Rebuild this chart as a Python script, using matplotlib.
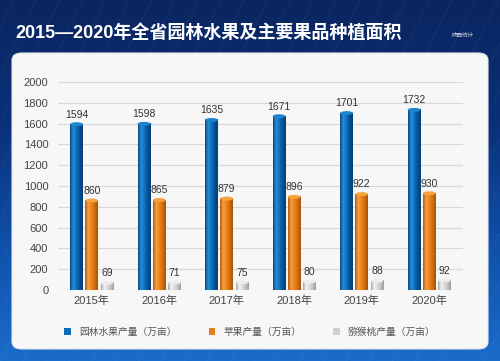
import numpy as np
import matplotlib.pyplot as plt
from matplotlib.colors import LinearSegmentedColormap
from matplotlib.patches import FancyBboxPatch, Ellipse

plt.rcParams['font.family'] = ['Liberation Sans', 'Noto Sans CJK SC', 'DejaVu Sans']

years = ['2015年', '2016年', '2017年', '2018年', '2019年', '2020年']
fruit = [1594, 1598, 1635, 1671, 1701, 1732]
apple = [860, 865, 879, 896, 922, 930]
kiwi = [69, 71, 75, 80, 88, 92]
series_names = ['园林水果产量（万亩）', '苹果产量（万亩）', '猕猴桃产量（万亩）']
title = '2015—2020年全省园林水果及主要果品种植面积'

fig = plt.figure(figsize=(5, 3.61), dpi=100)

# background: blue gradient + rounded white panel
bg = fig.add_axes([0, 0, 1, 1], zorder=0)
bg.set_xlim(0, 1)
bg.set_ylim(0, 1)
bg.axis('off')
bg_cmap = LinearSegmentedColormap.from_list('bg', ['#1a6ccc', '#0f4fa8', '#0a2f78', '#0b2660'])
grad = np.linspace(0, 1, 256).reshape(-1, 1)
bg.imshow(grad, extent=(0, 1, 0, 1), cmap=bg_cmap, aspect='auto', origin='lower')
for k in np.linspace(-0.6, 1.2, 40):
    bg.plot([k, k + 0.35], [0, 1], color='white', alpha=0.06, lw=0.6)
panel = FancyBboxPatch((12 / 500, 12 / 361), 476 / 500, 296 / 361,
                       boxstyle='round,pad=0,rounding_size=0.02',
                       transform=bg.transAxes, facecolor='#f7f7f7',
                       edgecolor='#e6e6e6', lw=0.8)
bg.add_patch(panel)
bg.text(15 / 500, 1 - 33 / 361, title, color='white', fontsize=13,
        fontweight='bold', va='center', ha='left')
bg.text(463 / 500, 1 - 35 / 361, '陕西统计', color='white', fontsize=4,
        alpha=0.8, ha='center', va='center')

ax = fig.add_axes([58 / 500, 71 / 361, 405 / 500, 208 / 361], zorder=1)
ax.patch.set_alpha(0)

x = np.arange(len(years))
w = 0.19
offsets = [-0.225, 0.0, 0.225]
values = [fruit, apple, kiwi]
base_colors = ['#0b6cb5', '#e67e1c', '#cfcfcf']
grads = [
    ['#064785', '#2a8fd6', '#0e71bd', '#07508f', '#053e75'],
    ['#b85c08', '#f6a040', '#eb8420', '#d06d10', '#a85206'],
    ['#a8a8a8', '#f4f4f4', '#dadada', '#c4c4c4', '#9c9c9c'],
]
cap_colors = ['#1d85cf', '#f5a43c', '#ececec']

cap_h = 38
for vals, off, col, g, capc, name in zip(values, offsets, base_colors, grads, cap_colors, series_names):
    ax.bar(x + off, vals, width=w, color=col, label=name, zorder=2)
    cmap = LinearSegmentedColormap.from_list('c', g)
    row = np.linspace(0, 1, 64).reshape(1, -1)
    for xi, v in zip(x, vals):
        ax.imshow(row, extent=(xi + off - w / 2, xi + off + w / 2, 0, v),
                  cmap=cmap, aspect='auto', zorder=3)
        ax.add_patch(Ellipse((xi + off, v), w, cap_h, facecolor=capc,
                             edgecolor='none', zorder=4))
        ax.text(xi + off, v + 45, f'{v}', ha='center', va='bottom',
                fontsize=7.5, color='#333333', zorder=5)

ax.set_xlim(-0.5, 5.5)
ax.set_ylim(0, 2000)
ax.set_yticks(range(0, 2001, 200))
ax.set_xticks(x)
ax.set_xticklabels(years)
ax.tick_params(axis='both', length=0, labelsize=8, colors='#444444')
ax.tick_params(axis='x', pad=4)
ax.tick_params(axis='y', pad=7)
ax.grid(axis='y', color='#d9d9d9', lw=0.9, zorder=0)
ax.set_axisbelow(True)
for s in ax.spines.values():
    s.set_visible(False)

fig.legend(loc='center', bbox_to_anchor=(0.5, 1 - 332 / 361), ncol=3,
           frameon=False, fontsize=7, labelcolor='#555555',
           handlelength=0.7, handleheight=0.7, handletextpad=0.8,
           columnspacing=3.3)

fig.savefig('out.png', dpi=100)
